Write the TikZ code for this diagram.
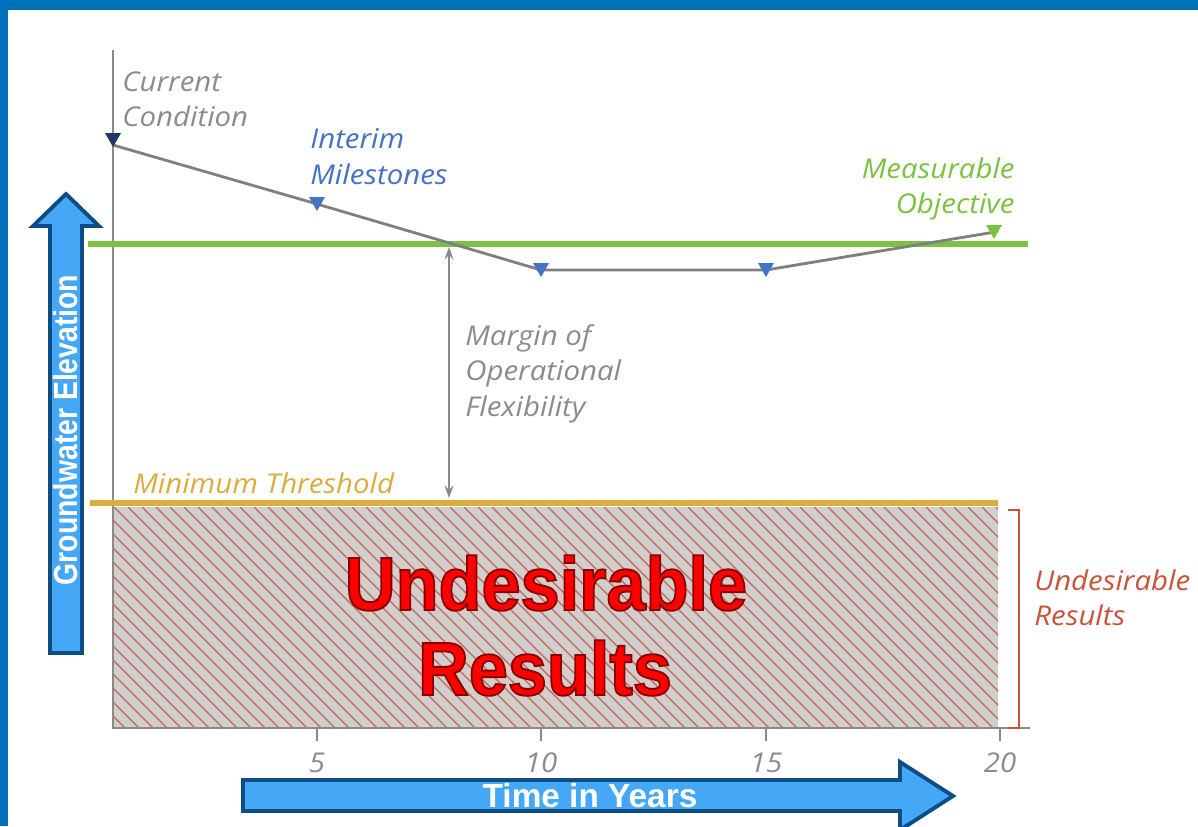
\documentclass[tikz,border=0pt]{standalone}
\usepackage{fontspec}
\setmainfont{Open Sans}[FakeStretch=1.08]
\newfontfamily\arialb{Liberation Sans}
\usetikzlibrary{arrows.meta}
\definecolor{frameblue}{HTML}{0070B8}
\definecolor{axisgray}{HTML}{8A8A8A}
\definecolor{linegray}{HTML}{808080}
\definecolor{textgray}{HTML}{8C8C8C}
\definecolor{mgreen}{HTML}{7DC142}
\definecolor{mgold}{HTML}{D9AE3E}
\definecolor{mblue}{HTML}{4472C4}
\definecolor{mnavy}{HTML}{1F3864}
\definecolor{hatchred}{HTML}{C06656}
\definecolor{fillgray}{HTML}{D2CECD}
\definecolor{bracketred}{HTML}{C9533B}
\definecolor{arrowfill}{HTML}{45A8F7}
\definecolor{arrowedge}{HTML}{0E4C85}
\newcommand{\outlined}[1]{\special{pdf:literal direct 2 Tr 0.55 0 0 RG 1.1 w}#1\special{pdf:literal direct 0 Tr}}
\tikzset{
  lbl/.style={inner sep=0pt, font=\fontsize{15.5}{20.3}\selectfont\itshape},
  ticklbl/.style={inner sep=0pt, text=textgray, font=\fontsize{15.5}{19}\selectfont\itshape},
  tri/.pic={\fill (-8,-7) -- (8,-7) -- (0,7) -- cycle;},
  bigarrow/.style={fill=arrowfill, draw=arrowedge, line width=2.2pt, line join=miter},
  bigred/.style={inner sep=0pt, text=red, anchor=base, font=\arialb\bfseries\fontsize{43}{50}\selectfont},
  arrowtxt/.style={inner sep=0pt, text=white, font=\arialb\bfseries\fontsize{19}{21}\selectfont}
}
\begin{document}
\begin{tikzpicture}[x=0.02cm,y=-0.02cm]
\useasboundingbox (0,0) rectangle (1198,826);
\fill[white] (0,0) rectangle (1198,826);
% frame
\fill[frameblue] (0,0) rectangle (1198,10);
\fill[frameblue] (0,0) rectangle (8,826);

% hatched area
\fill[fillgray] (113,507) rectangle (998,728);
\begin{scope}
  \clip (113,507) rectangle (998,728);
  \foreach \i in {-110,-96,...,1000} \draw[hatchred, line width=0.75pt] (\i,507) -- (\i+221,728);
\end{scope}

% axes
\coordinate (ytop) at (113,50);
\coordinate (orig) at (113,728);
\coordinate (xend) at (1030,728);
\draw[axisgray, line width=1.3pt] (ytop) -- (orig) -- (xend);
\foreach \x/\l in {317/5,541/10,766/15,1000/20}{
  \draw[axisgray, line width=1.3pt] (\x,728) -- (\x,741);
  \node[ticklbl] (t\l) at (\x,763) {\l};
}

% threshold lines
\coordinate (gL) at (88,244); \coordinate (gR) at (1028,244);
\draw[mgreen, line width=3.4pt] (gL) -- (gR);
\coordinate (yL) at (90,503); \coordinate (yR) at (998,503);
\draw[mgold, line width=3.4pt] (yL) -- (yR);

% trajectory
\coordinate (p0) at (113,145);
\coordinate (p5) at (317,204);
\coordinate (p10) at (541,270);
\coordinate (p15) at (766,270);
\coordinate (p20) at (995,232);
\draw[linegray, line width=1.6pt] (p0) -- (p5) -- (p10) -- (p15) -- (p20);
\pic[fill=mnavy] at (113,140) {tri};
\pic[fill=mblue] at (p5) {tri};
\pic[fill=mblue] at (p10) {tri};
\pic[fill=mblue] at (p15) {tri};
\pic[fill=mgreen] at (994,232) {tri};

% margin arrow
\coordinate (mTop) at (449,247);
\coordinate (mBot) at (449,498);
\draw[axisgray, line width=1.3pt, {Stealth[length=7pt,width=5pt]}-{Stealth[length=7pt,width=5pt]}] (mTop) -- (mBot);

% bracket
\coordinate (bT) at (1008,510); \coordinate (bB) at (1008,728);
\draw[bracketred, line width=1.6pt] (bT) -- ++(11,0) |- (bB);

% labels
\node[lbl, text=textgray, anchor=north west, align=left] (cc) at (122,71) {Current\\Condition};
\node[lbl, text=mblue, anchor=north west, align=left] (im) at (310,128) {Interim\\Milestones};
\node[lbl, text=mgreen, anchor=north east, align=right] (mo) at (1015,157) {Measurable\\Objective};
\node[lbl, text=textgray, anchor=north west, align=left] (mof) at (465,324) {Margin of\\Operational\\Flexibility};
\node[lbl, text=mgold, anchor=west] (mt) at (133,483) {Minimum Threshold};
\node[lbl, text=bracketred, anchor=north west, align=left] (ur) at (1034,569) {Undesirable\\Results};

% big red text
\node[bigred] (bu) at (546,610) {\scalebox{0.93}[1]{\outlined{Undesirable}}};
\node[bigred] (br) at (545,695) {\scalebox{0.93}[1]{\outlined{Results}}};

% groundwater arrow
\draw[bigarrow] (50,653) -- (50,226) -- (33,226) -- (66,194) -- (99,226) -- (82,226) -- (82,653) -- cycle;
\node[arrowtxt, rotate=90] (ge) at (66,430) {\scalebox{0.85}[1]{Groundwater Elevation}};

% time arrow
\draw[bigarrow] (243,780) -- (900,780) -- (900,762) -- (953,796) -- (900,830) -- (900,811) -- (243,811) -- cycle;
\node[arrowtxt] (ty) at (590,796) {Time in Years};
\end{tikzpicture}
\end{document}
